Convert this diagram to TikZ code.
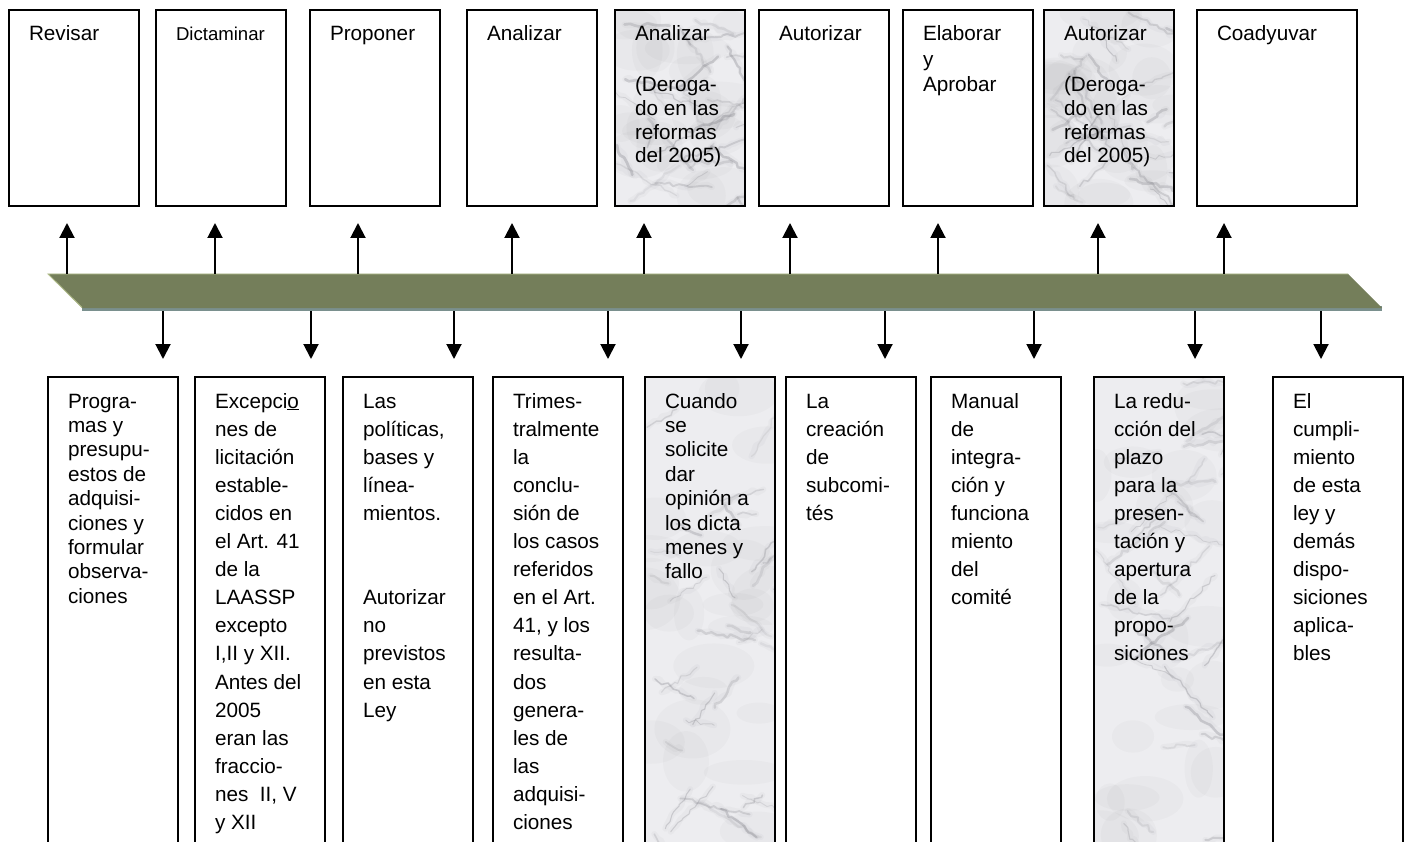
\documentclass[tikz,border=0pt]{standalone}
\usepackage{fontspec}
\setmainfont{Liberation Sans}
\usetikzlibrary{arrows.meta,calc,decorations.pathmorphing}

\definecolor{barolive}{RGB}{116,126,90}
\definecolor{barlight}{RGB}{178,190,140}
\definecolor{barstrip}{RGB}{122,144,142}
\definecolor{marblebase}{RGB}{237,237,240}
\definecolor{veingray}{RGB}{100,100,108}

% stacked lines whose baseline is the baseline of the first line
\newcommand\lines[1]{\begin{tabular}[t]{@{}l@{}}#1\end{tabular}}

\tikzset{
  box/.style={draw=black, line width=1.8pt, anchor=north west, inner sep=0pt, outer sep=0pt},
  topbox/.style={box, minimum width=130pt, minimum height=196pt},
  widebox/.style={box, minimum width=160pt, minimum height=196pt},
  botbox/.style={box, minimum width=130pt, minimum height=490pt},
  txt/.style={anchor=base west, inner sep=0pt, outer sep=0pt},
  ttext/.style={txt, font=\fontsize{20.7}{23.6}\selectfont},
  tloose/.style={txt, font=\fontsize{20.7}{25.5}\selectfont},
  tsmall/.style={txt, font=\fontsize{18.6}{21.4}\selectfont},
  btext/.style={txt, font=\fontsize{20.7}{28.1}\selectfont},
  btight/.style={txt, font=\fontsize{20.7}{24.4}\selectfont},
  uparr/.style={line width=2pt, -{Triangle[width=15pt,length=15pt]}, shorten >=17pt},
  downarr/.style={line width=2pt, -{Triangle[width=15pt,length=15pt]}, shorten >=18pt},
  vein/.style={draw=veingray, line cap=round, line join=round,
    decorate, decoration={random steps, segment length=5pt, amplitude=2.2pt}},
}

% marble texture inside a box: #1 node, #2 width, #3 height, #4 seed
\newcommand\marblefill[4]{%
  \begin{scope}
    \clip (#1.north west) rectangle (#1.south east);
    \fill[marblebase] (#1.north west) rectangle (#1.south east);
    \pgfmathsetseed{#4}
    \foreach \k in {1,...,24}{
      \pgfmathsetmacro\mx{rnd*#2}
      \pgfmathsetmacro\my{rnd*#3}
      \pgfmathsetmacro\rx{14+rnd*30}
      \pgfmathsetmacro\ry{10+rnd*22}
      \fill[gray, opacity=0.045] ([shift={(\mx,\my)}]#1.north west) ellipse [x radius=\rx pt, y radius=\ry pt];
    }
    \foreach \k in {1,...,34}{
      \pgfmathsetmacro\mx{rnd*#2}
      \pgfmathsetmacro\my{rnd*#3}
      \pgfmathsetmacro\ml{18+rnd*55}
      \pgfmathsetmacro\ma{-65+rnd*130}
      \pgfmathsetmacro\mw{0.8+rnd*2.0}
      \pgfmathsetmacro\mo{0.08+rnd*0.17}
      \draw[vein, line width=\mw pt, opacity=\mo] ([shift={(\mx,\my)}]#1.north west) -- ++(\ma:\ml);
      \draw[vein, line width=6pt, opacity=0.04] ([shift={(\mx,\my)}]#1.north west) -- ++(\ma:\ml);
    }
  \end{scope}}

\begin{document}
\begin{tikzpicture}[x=1pt, y=-1pt]
\useasboundingbox (0,0) rectangle (1405,842);
\clip (0,0) rectangle (1405,842);

% upper row of boxes
\node[topbox]  (t1) at (9,10) {};
\node[topbox]  (t2) at (156,10) {};
\node[topbox]  (t3) at (310,10) {};
\node[topbox]  (t4) at (467,10) {};
\node[topbox]  (t5) at (615,10) {};
\node[topbox]  (t6) at (759,10) {};
\node[topbox]  (t7) at (903,10) {};
\node[topbox]  (t8) at (1044,10) {};
\node[widebox] (t9) at (1197,10) {};

% lower row of boxes
\node[botbox] (b1) at (48,377) {};
\node[botbox] (b2) at (195,377) {};
\node[botbox] (b3) at (343,377) {};
\node[botbox] (b4) at (493,377) {};
\node[botbox] (b5) at (645,377) {};
\node[botbox] (b6) at (786,377) {};
\node[botbox] (b7) at (931,377) {};
\node[botbox] (b8) at (1094,377) {};
\node[botbox] (b9) at (1273,377) {};

% marble-textured boxes
\marblefill{t5}{131}{196}{11}
\marblefill{t8}{132}{196}{23}
\marblefill{b5}{130}{470}{37}
\marblefill{b8}{131}{470}{53}
\foreach \n in {t5,t8,b5,b8}{
  \draw[line width=1.8pt] (\n.north west) rectangle (\n.south east);
}

% texts of the upper row
\node[ttext]  (t1x) at ([shift={(20,31)}]t1.north west) {Revisar};
\node[tsmall] (t2x) at ([shift={(20,31)}]t2.north west) {Dictaminar};
\node[ttext]  (t3x) at ([shift={(20,31)}]t3.north west) {Proponer};
\node[ttext]  (t4x) at ([shift={(20,31)}]t4.north west) {Analizar};
\node[ttext]  (t5x) at ([shift={(20,31)}]t5.north west)
  {\lines{Analizar\\[27.4pt](Deroga-\\do en las\\reformas\\del 2005)}};
\node[ttext]  (t6x) at ([shift={(20,31)}]t6.north west) {Autorizar};
\node[tloose] (t7x) at ([shift={(20,31)}]t7.north west) {\lines{Elaborar\\y\\Aprobar}};
\node[ttext]  (t8x) at ([shift={(20,31)}]t8.north west)
  {\lines{Autorizar\\[27.4pt](Deroga-\\do en las\\reformas\\del 2005)}};
\node[ttext]  (t9x) at ([shift={(20,31)}]t9.north west) {Coadyuvar};

% texts of the lower row
\node[btight] (b1x) at ([shift={(20,31)}]b1.north west)
  {\lines{Progra-\\mas y\\presupu-\\estos de\\adquisi-\\ciones y\\formular\\observa-\\ciones}};
\node[btext] (b2x) at ([shift={(20,31)}]b2.north west)
  {\lines{Excepci\underline{o}\\nes de\\licitación\\estable-\\cidos en\\el Art. 41\\de la\\LAASSP\\excepto\\I,II y XII.\\Antes del\\2005\\eran las\\fraccio-\\nes\ \ II, V\\y XII}};
\node[btext] (b3x) at ([shift={(20,31)}]b3.north west)
  {\lines{Las\\políticas,\\bases y\\línea-\\mientos.\\[56.2pt]Autorizar\\no\\previstos\\en esta\\Ley}};
\node[btext] (b4x) at ([shift={(20,31)}]b4.north west)
  {\lines{Trimes-\\tralmente\\la\\conclu-\\sión de\\los casos\\referidos\\en el Art.\\41, y los\\resulta-\\dos\\genera-\\les de\\las\\adquisi-\\ciones}};
\node[btight] (b5x) at ([shift={(20,31)}]b5.north west)
  {\lines{Cuando\\se\\solicite\\dar\\opinión a\\los dicta\\menes y\\fallo}};
\node[btext] (b6x) at ([shift={(20,31)}]b6.north west)
  {\lines{La\\creación\\de\\subcomi-\\tés}};
\node[btext] (b7x) at ([shift={(20,31)}]b7.north west)
  {\lines{Manual\\de\\integra-\\ción y\\funciona\\miento\\del\\comité}};
\node[btext] (b8x) at ([shift={(20,31)}]b8.north west)
  {\lines{La redu-\\cción del\\plazo\\para la\\presen-\\tación y\\apertura\\de la\\propo-\\siciones}};
\node[btext] (b9x) at ([shift={(20,31)}]b9.north west)
  {\lines{El\\cumpli-\\miento\\de esta\\ley y\\demás\\dispo-\\siciones\\aplica-\\bles}};

% the time bar
\fill[barstrip] (82,306) rectangle (1382,311);
\fill[barolive] (48,274) -- (1348,274) -- (1382,308) -- (82,308) -- cycle;
\draw[barlight, line width=0.9pt] (82,307.5) -- (48,274) -- (1348,274);

% arrow roots on the bar
\foreach \i/\x in {1/67,2/215,3/358,4/512,5/644,6/790,7/938,8/1098,9/1224}{
  \coordinate (u\i) at (\x,274);
}
\foreach \i/\x in {1/163,2/311,3/454,4/608,5/741,6/885,7/1034,8/1195,9/1321}{
  \coordinate (d\i) at (\x,311);
}

% arrows towards the boxes
\foreach \i in {1,...,9}{
  \draw[uparr]   (u\i) -- (u\i |- t\i.south);
  \draw[downarr] (d\i) -- (d\i |- b\i.north);
}
\end{tikzpicture}
\end{document}
